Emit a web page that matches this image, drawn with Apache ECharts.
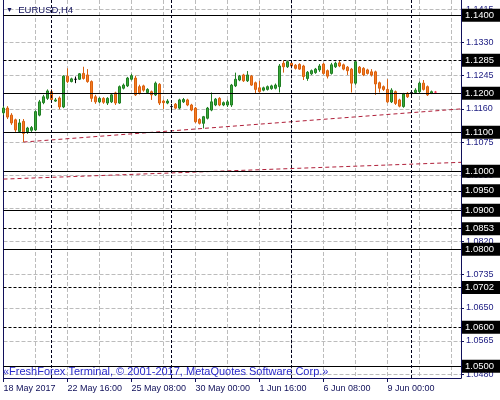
<!DOCTYPE html>
<html>
<head>
<meta charset="utf-8">
<script src="https://cdn.jsdelivr.net/npm/echarts@6/dist/echarts.min.js"></script>
<style>html,body{margin:0;padding:0;background:#fff;}#c{width:500px;height:400px;}</style>
</head>
<body>
<div id="c"></div>
<script>
// ---- data (EURUSD H4, bar index 0 = 18 May 2017 00:00) ----
const opens = [1.1150,1.1162,1.1144,1.1132,1.1102,1.1128,1.1101,1.1105,1.1106,1.1144,
1.1176,1.1187,1.1204,1.1180,1.1188,1.1165,1.1244,1.1230,1.1236,1.1236,
1.1251,1.1247,1.1230,1.1191,1.1178,1.1187,1.1175,1.1178,1.1201,1.1175,
1.1213,1.1219,1.1236,1.1239,1.1217,1.1219,1.1202,1.1204,1.1196,1.1223,
1.1180,1.1175,1.1166,1.1172,1.1162,1.1178,1.1183,1.1170,1.1162,1.1133,
1.1123,1.1136,1.1157,1.1170,1.1187,1.1170,1.1170,1.1170,1.1219,1.1234,
1.1247,1.1232,1.1244,1.1227,1.1214,1.1208,1.1210,1.1212,1.1213,1.1217,
1.1277,1.1268,1.1277,1.1272,1.1274,1.1270,1.1238,1.1250,1.1253,1.1260,
1.1275,1.1258,1.1251,1.1268,1.1278,1.1273,1.1267,1.1262,1.1226,1.1267,
1.1264,1.1260,1.1255,1.1255,1.1227,1.1217,1.1210,1.1178,1.1204,1.1183,
1.1166,1.1200,1.1202,1.1202,1.1204,1.1226,1.1217,1.1200,1.1203];
const closes = [1.1162,1.1139,1.1124,1.1106,1.1124,1.1097,1.1111,1.1112,1.1153,1.1178,
1.1191,1.1206,1.1184,1.1183,1.1165,1.1244,1.1230,1.1237,1.1236,1.1250,
1.1238,1.1230,1.1187,1.1178,1.1187,1.1177,1.1187,1.1196,1.1175,1.1217,
1.1221,1.1239,1.1245,1.1196,1.1200,1.1208,1.1210,1.1196,1.1226,1.1175,
1.1176,1.1180,1.1166,1.1162,1.1183,1.1184,1.1170,1.1157,1.1127,1.1123,
1.1140,1.1162,1.1178,1.1185,1.1170,1.1176,1.1178,1.1221,1.1236,1.1244,
1.1232,1.1247,1.1221,1.1210,1.1204,1.1214,1.1217,1.1219,1.1221,1.1270,
1.1268,1.1281,1.1270,1.1264,1.1262,1.1243,1.1254,1.1258,1.1262,1.1270,
1.1251,1.1244,1.1273,1.1277,1.1270,1.1262,1.1258,1.1226,1.1281,1.1253,
1.1247,1.1251,1.1247,1.1224,1.1213,1.1210,1.1178,1.1208,1.1174,1.1167,
1.1198,1.1191,1.1202,1.1208,1.1226,1.1210,1.1196,1.1204,1.1203];
const highs = [1.1167,1.1167,1.1149,1.1135,1.1134,1.1134,1.1114,1.1116,1.1156,1.1183,
1.1196,1.1210,1.1210,1.1188,1.1192,1.1246,1.1264,1.1240,1.1243,1.1252,
1.1268,1.1262,1.1233,1.1196,1.1190,1.1190,1.1190,1.1199,1.1204,1.1220,
1.1225,1.1242,1.1250,1.1245,1.1222,1.1222,1.1213,1.1207,1.1230,1.1226,
1.1183,1.1185,1.1173,1.1175,1.1186,1.1188,1.1186,1.1173,1.1165,1.1136,
1.1142,1.1165,1.1202,1.1188,1.1190,1.1179,1.1183,1.1224,1.1253,1.1247,
1.1250,1.1257,1.1247,1.1230,1.1232,1.1217,1.1220,1.1222,1.1225,1.1275,
1.1284,1.1284,1.1280,1.1275,1.1277,1.1273,1.1257,1.1261,1.1265,1.1275,
1.1278,1.1261,1.1278,1.1281,1.1284,1.1276,1.1270,1.1265,1.1285,1.1270,
1.1267,1.1263,1.1262,1.1258,1.1230,1.1220,1.1236,1.1213,1.1207,1.1186,
1.1201,1.1203,1.1208,1.1213,1.1230,1.1234,1.1220,1.1207,1.1206];
const lows = [1.1144,1.1134,1.1119,1.1101,1.1099,1.1075,1.1096,1.1101,1.1103,1.1141,
1.1172,1.1183,1.1180,1.1178,1.1159,1.1162,1.1226,1.1228,1.1226,1.1234,
1.1235,1.1227,1.1178,1.1173,1.1175,1.1173,1.1170,1.1175,1.1170,1.1173,
1.1210,1.1216,1.1233,1.1193,1.1197,1.1204,1.1199,1.1183,1.1193,1.1170,
1.1160,1.1172,1.1157,1.1159,1.1159,1.1175,1.1167,1.1154,1.1124,1.1120,
1.1110,1.1133,1.1154,1.1167,1.1167,1.1167,1.1165,1.1165,1.1216,1.1231,
1.1229,1.1229,1.1219,1.1200,1.1202,1.1205,1.1207,1.1209,1.1210,1.1202,
1.1253,1.1265,1.1267,1.1261,1.1260,1.1234,1.1232,1.1247,1.1250,1.1255,
1.1248,1.1238,1.1248,1.1265,1.1267,1.1259,1.1247,1.1202,1.1222,1.1250,
1.1244,1.1248,1.1243,1.1196,1.1202,1.1206,1.1175,1.1175,1.1170,1.1164,
1.1163,1.1188,1.1195,1.1199,1.1201,1.1207,1.1193,1.1198,1.1200];

const timeLabels = ['18 May 2017','22 May 16:00','25 May 08:00','30 May 00:00','1 Jun 16:00','6 Jun 08:00','9 Jun 00:00'];
const timeLabelBars = [0,16,32,48,64,80,96];
const priceTicks = [1.0480,1.0565,1.0650,1.0735,1.0820,1.0905,1.0990,1.1075,1.1160,1.1245,1.1330,1.1415];
const solidLevels = [1.1400,1.1200,1.1100,1.1000,1.0900,1.0800,1.0500];
const dashedLevels = [1.1285,1.0950,1.0853,1.0702,1.0600];
const weekSeparators = [12,42,72,102];
const trendLine1 = [[5,1.1075],[114.375,1.1160]];
const trendLine2 = [[0,1.0980],[114.375,1.1023]];
const priceMin = 1.0470, priceMax = 1.14392;
const barMax = 114.375;

// ---- chart ----
const FONT = 'Liberation Sans';
const NAVY = '#10105a';
const GRID = '#bcbcbc';
const candleData = opens.map((o, i) => {
  const item = {value: [i, o, closes[i], lows[i], highs[i]]};
  if (i === opens.length - 1) {
    item.itemStyle = {color: '#ff3a5a', color0: '#ff3a5a', borderColor: '#ff3a5a', borderColor0: '#ff3a5a', borderColorDoji: '#ff3a5a'};
  }
  return item;
});

const levelLabel = {
  show: true, position: 'end', distance: 1,
  formatter: p => Number(p.value).toFixed(4),
  color: '#fff', backgroundColor: '#000',
  fontFamily: FONT, fontSize: 9.5, lineHeight: 10,
  padding: [2, 9, 1, 3]
};
const markData = [];
solidLevels.forEach(v => markData.push({yAxis: v, lineStyle: {color: '#000', type: 'solid', width: 1}, label: levelLabel}));
dashedLevels.forEach(v => markData.push({yAxis: v, lineStyle: {color: '#000', type: [3, 2], width: 1}, label: levelLabel}));
weekSeparators.forEach(v => markData.push({xAxis: v, lineStyle: {color: '#00001a', type: [3, 2], width: 1}, label: {show: false}}));

const chart = echarts.init(document.getElementById('c'), null, {renderer: 'canvas'});
chart.setOption({
  animation: false,
  backgroundColor: '#fff',
  textStyle: {fontFamily: FONT},
  title: [
    {text: '{a|▼}  EURUSD,H4', left: 6, top: 5, padding: 0,
     textStyle: {fontFamily: FONT, fontSize: 9.5, fontWeight: 'normal', color: NAVY,
       rich: {a: {fontSize: 7, color: NAVY, fontFamily: FONT}}}},
    {text: '«FreshForex Terminal, © 2001-2017, MetaQuotes Software Corp.»', left: 3, top: 366, padding: 0,
     textStyle: {fontFamily: FONT, fontSize: 11, fontWeight: 'normal', color: '#2a2acc'}}
  ],
  grid: {left: 3.5, right: 39, top: 0, bottom: 22, containLabel: false},
  xAxis: [
    {type: 'value', min: 0, max: barMax, interval: 8, position: 'bottom',
     axisLine: {show: true, onZero: false, lineStyle: {color: NAVY, width: 1}},
     axisTick: {show: false}, axisLabel: {show: false},
     splitLine: {show: true, lineStyle: {color: GRID, type: [4, 2], width: 1}}},
    {type: 'value', min: 0, max: barMax, interval: 16, position: 'bottom',
     axisLine: {show: false, onZero: false},
     axisTick: {show: true, length: 4, customValues: timeLabelBars, lineStyle: {color: NAVY}},
     axisLabel: {show: true, customValues: timeLabelBars, align: 'left', margin: 6,
       formatter: v => { const k = timeLabelBars.indexOf(v); return k >= 0 ? timeLabels[k] : ''; },
       color: NAVY, fontFamily: FONT, fontSize: 9},
     splitLine: {show: false}}
  ],
  yAxis: [
    {type: 'value', position: 'right', min: priceMin, max: priceMax,
     axisLine: {show: true, onZero: false, lineStyle: {color: NAVY, width: 1}},
     axisTick: {show: true, length: 3, customValues: priceTicks, lineStyle: {color: NAVY}},
     axisLabel: {show: true, customValues: priceTicks, margin: 5, formatter: v => v.toFixed(4),
       color: '#1a1a80', fontFamily: FONT, fontSize: 9},
     splitLine: {show: true, lineStyle: {color: GRID, type: [4, 2], width: 1}}},
    {type: 'value', position: 'left', min: priceMin, max: priceMax,
     axisLine: {show: true, onZero: false, lineStyle: {color: NAVY, width: 1}},
     axisTick: {show: false}, axisLabel: {show: false}, splitLine: {show: false}}
  ],
  series: [
    {type: 'candlestick', xAxisIndex: 0, yAxisIndex: 0, barWidth: 3, z: 3,
     encode: {x: 0, y: [1, 2, 3, 4]},
     data: candleData,
     itemStyle: {color: '#3aa83a', color0: '#f57c22', borderColor: '#1f7f22', borderColor0: '#d9600e', borderColorDoji: '#000', borderWidth: 1},
     markLine: {symbol: ['none', 'none'], silent: true, animation: false, precision: 4, data: markData}
    },
    {type: 'line', xAxisIndex: 0, yAxisIndex: 0, z: 2, data: trendLine1, symbol: 'none', silent: true,
     lineStyle: {color: '#b0203a', width: 1, type: [4, 3]}},
    {type: 'line', xAxisIndex: 0, yAxisIndex: 0, z: 2, data: trendLine2, symbol: 'none', silent: true,
     lineStyle: {color: '#b0203a', width: 1, type: [4, 3]}}
  ]
});
</script>
</body>
</html>
